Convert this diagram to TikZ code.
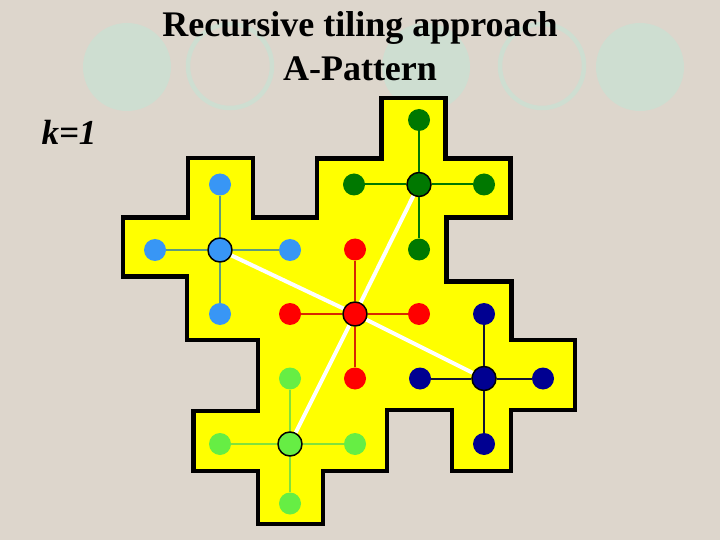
\documentclass[tikz,border=0pt]{standalone}
\usepackage{fontspec}
\setmainfont{Liberation Serif}
\definecolor{bgc}{RGB}{221,214,204}
\definecolor{mint}{RGB}{206,222,209}
\definecolor{tileY}{RGB}{255,255,0}
\definecolor{blueN}{RGB}{56,150,245}
\definecolor{blueE}{RGB}{95,155,125}
\definecolor{greenN}{RGB}{0,120,0}
\definecolor{greenE}{RGB}{0,120,0}
\definecolor{redN}{RGB}{255,0,0}
\definecolor{redE}{RGB}{215,40,0}
\definecolor{navyN}{RGB}{0,0,145}
\definecolor{navyE}{RGB}{20,20,50}
\definecolor{lgN}{RGB}{102,238,68}
\definecolor{lgE}{RGB}{130,225,60}
\begin{document}
\begin{tikzpicture}[x=1bp,y=-1bp,
  leaf/.style={circle,inner sep=0pt,minimum size=22bp},
  hub/.style={circle,inner sep=0pt,minimum size=24bp,draw=black,line width=1.5bp},
  edge/.style={line width=2bp},
  whiteline/.style={draw=white,line width=4bp},
  ring/.style={draw=mint,line width=4.5bp},
  disc/.style={fill=mint},
  titlefont/.style={font=\fontsize{36bp}{43bp}\selectfont\bfseries},
  kfont/.style={font=\fontsize{35bp}{42bp}\selectfont\bfseries\itshape}]
\fill[bgc] (0,0) rectangle (720,540);
\useasboundingbox (0,0) rectangle (720,540);
% background circles
\fill[disc] (127,67) circle (44);
\draw[ring] (230,66) circle (42);
\fill[disc] (426,67) circle (44);
\draw[ring] (542,66) circle (42);
\fill[disc] (640,67) circle (44);
% title
\node[titlefont,anchor=base] (t1) at (360,37) {Recursive tiling approach};
\node[titlefont,anchor=base] (t2) at (360,81) {A-Pattern};
\node[kfont,anchor=base west] (k) at (38,145) {k=1};
% tile outline
\draw[line width=4.5bp,fill=tileY,line join=miter]
 (381.5,98) -- (445.5,98) -- (445.5,158.5) -- (510.5,158.5) -- (510.5,217.5)
 -- (446.5,217.5) -- (446.5,281.5) -- (511.5,281.5) -- (511.5,340) -- (575,340)
 -- (575,410) -- (511,410) -- (511,471) -- (452,471) -- (452,410) -- (387,410)
 -- (387,471) -- (323,471) -- (323,524) -- (258,524) -- (258,471) -- (193.5,471)
 -- (193.5,411) -- (258,411) -- (258,340) -- (187,340) -- (187,276.5) -- (123,276.5)
 -- (123,217.5) -- (188,217.5) -- (188,158) -- (253,158) -- (253,217.5) -- (317,217.5)
 -- (317,158.5) -- (381.5,158.5) -- cycle;
% nodes
\node[hub,fill=blueN] (bc) at (220,250) {};
\node[leaf,fill=blueN] (bu) at (220,184.5) {};
\node[leaf,fill=blueN] (bl) at (155,250) {};
\node[leaf,fill=blueN] (br) at (290,250) {};
\node[leaf,fill=blueN] (bd) at (220,314) {};
\node[hub,fill=greenN] (gc) at (419,184.5) {};
\node[leaf,fill=greenN] (gu) at (419,120) {};
\node[leaf,fill=greenN] (gl) at (354,184.5) {};
\node[leaf,fill=greenN] (gr) at (484,184.5) {};
\node[leaf,fill=greenN] (gd) at (419,249.5) {};
\node[hub,fill=redN] (rc) at (355,314) {};
\node[leaf,fill=redN] (ru) at (355,249.5) {};
\node[leaf,fill=redN] (rl) at (290,314) {};
\node[leaf,fill=redN] (rr) at (419,314) {};
\node[leaf,fill=redN] (rd) at (355,378.5) {};
\node[hub,fill=navyN] (nc) at (484,378.5) {};
\node[leaf,fill=navyN] (nu) at (484,314) {};
\node[leaf,fill=navyN] (nl) at (420,378.5) {};
\node[leaf,fill=navyN] (nr) at (543,378.5) {};
\node[leaf,fill=navyN] (nd) at (484,444) {};
\node[hub,fill=lgN] (lc) at (290,444) {};
\node[leaf,fill=lgN] (lu) at (290,378.5) {};
\node[leaf,fill=lgN] (ll) at (220,444) {};
\node[leaf,fill=lgN] (lr) at (355,444) {};
\node[leaf,fill=lgN] (ld) at (290,503.5) {};
% white links
\draw[whiteline] (rc) -- (bc);
\draw[whiteline] (rc) -- (gc);
\draw[whiteline] (rc) -- (nc);
\draw[whiteline] (rc) -- (lc);
% star edges
\draw[edge,blueE] (bc) -- (bu); \draw[edge,blueE] (bc) -- (bl);
\draw[edge,blueE] (bc) -- (br); \draw[edge,blueE] (bc) -- (bd);
\draw[edge,greenE] (gc) -- (gu); \draw[edge,greenE] (gc) -- (gl);
\draw[edge,greenE] (gc) -- (gr); \draw[edge,greenE] (gc) -- (gd);
\draw[edge,redE] (rc) -- (ru); \draw[edge,redE] (rc) -- (rl);
\draw[edge,redE] (rc) -- (rr); \draw[edge,redE] (rc) -- (rd);
\draw[edge,navyE] (nc) -- (nu); \draw[edge,navyE] (nc) -- (nl);
\draw[edge,navyE] (nc) -- (nr); \draw[edge,navyE] (nc) -- (nd);
\draw[edge,lgE] (lc) -- (lu); \draw[edge,lgE] (lc) -- (ll);
\draw[edge,lgE] (lc) -- (lr); \draw[edge,lgE] (lc) -- (ld);
\end{tikzpicture}
\end{document}
